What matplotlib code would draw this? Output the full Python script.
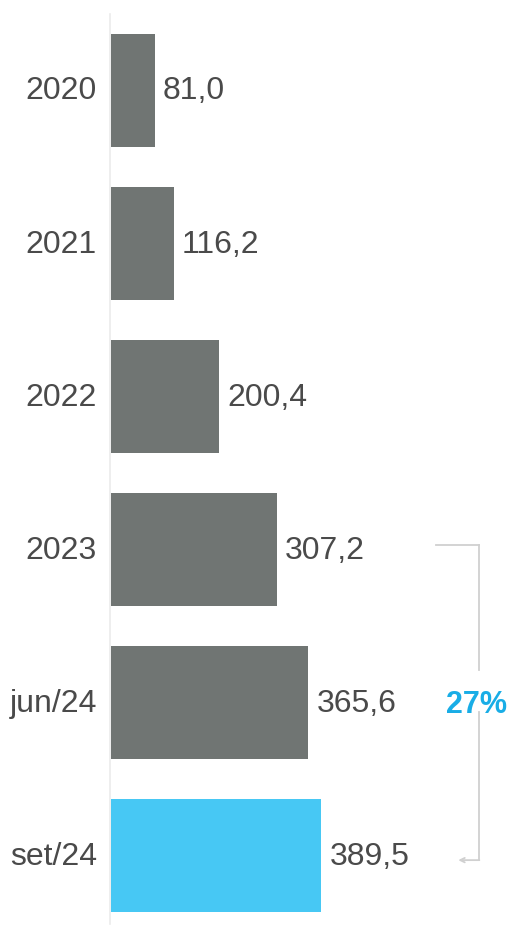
import matplotlib.pyplot as plt
import numpy as np

plt.rcParams['font.family'] = ['Liberation Sans', 'DejaVu Sans']

periodos = ['2020', '2021', '2022', '2023', 'jun/24', 'set/24']
valores = [81.0, 116.2, 200.4, 307.2, 365.6, 389.5]

cinza = '#707573'
azul = '#47c8f4'
cor_texto = '#4a4a4a'

fig = plt.figure(figsize=(5.13, 9.28), dpi=100)
ax = fig.add_axes([0, 0, 1, 1])
ax.set_xlim(-203.7, 746.3)
ax.set_ylim(5.467, -0.598)
ax.axis('off')

y = np.arange(len(periodos))
cores = [cinza] * (len(periodos) - 1) + [azul]
ax.barh(y, valores, height=0.74, color=cores, left=1.5)

# linha do eixo
ax.plot([0, 0], [-0.5, 5.45], color='#ebebeb', lw=1.2, zorder=0)

for i, (p, v) in enumerate(zip(periodos, valores)):
    ax.text(-24, i, p, ha='right', va='center', fontsize=23, color=cor_texto)
    ax.text(v + 17, i, f'{v:.1f}'.replace('.', ','), ha='left', va='center',
            fontsize=23, color=cor_texto)

# colchete de variação 2023 -> set/24
i0, i1 = 3, 5
var = (valores[i1] / valores[i0] - 1) * 100
xb = 683
cor_linha = '#d0d0d0'
ax.plot([604, xb], [i0 - 0.03, i0 - 0.03], color=cor_linha, lw=1.3)
ax.plot([xb, xb], [i0 - 0.03, 3.79], color=cor_linha, lw=1.3)
ax.plot([xb, xb], [4.06, i1 + 0.03], color=cor_linha, lw=1.3)
ax.annotate('', xy=(645, i1 + 0.03), xytext=(xb + 1, i1 + 0.03),
            arrowprops=dict(arrowstyle='->', color=cor_linha, lw=1.3,
                            shrinkA=0, shrinkB=0, mutation_scale=8))
ax.text(679, 4.01, f'{var:.0f}%', ha='center', va='center', fontsize=22,
        fontweight='bold', color='#19ade6')

fig.savefig('out.png', dpi=100)
